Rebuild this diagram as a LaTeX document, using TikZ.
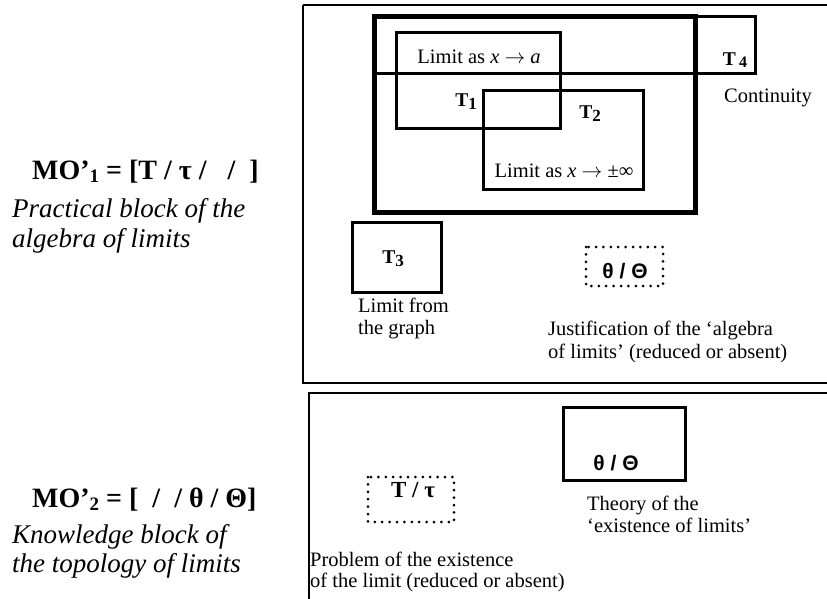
\documentclass[tikz,border=0pt]{standalone}
\usepackage{fontspec}
\setmainfont{Liberation Serif}
\newfontfamily\symsans{Liberation Sans}
\newcommand{\arr}{\ensuremath{\rightarrow}}
\newcommand{\subn}[1]{\raisebox{-0.4ex}{\fontsize{17}{17}\selectfont #1}}
\begin{document}
\begin{tikzpicture}[x=1pt,y=-1pt,
  frame/.style={draw, line width=2pt},
  thickbox/.style={draw, line width=5pt},
  tbox/.style={draw, line width=3pt},
  dotbox/.style={draw, line width=3pt, line cap=round, dash pattern=on 0pt off 7.4pt},
  lbl/.style={inner sep=0pt, anchor=base, font=\fontsize{20.5}{23}\selectfont},
  lblw/.style={lbl, anchor=base west},
  tl/.style={inner sep=0pt, anchor=base, font=\fontsize{19.5}{22}\selectfont\bfseries},
  thl/.style={inner sep=0pt, anchor=base, font=\fontsize{21}{22}\selectfont\symsans\bfseries},
  side/.style={inner sep=0pt, anchor=base west, font=\fontsize{27}{29}\selectfont\itshape},
  mo/.style={inner sep=0pt, anchor=base west, font=\fontsize{28}{30}\selectfont\bfseries}]
\useasboundingbox (0,0) rectangle (827,598);
% upper block
\draw[frame] (303,5) -- (830,5) (303,5) -- (303,383) -- (830,383);
\draw[thickbox] (374,16) rectangle (695,212);
\draw[tbox] (374,73) -- (755,73) -- (755,16) -- (695,16);
\draw[tbox] (396,32) rectangle (560,128);
\draw[tbox] (483,90) rectangle (643,189);
\draw[tbox] (352,222) rectangle (441,292);
\draw[dotbox] (586,247) rectangle (663,286);
\node[lbl] (la) at (479,63) {Limit as \textit{x} \arr{} \textit{a}};
\node[tl] (t1) at (466,106) {T\subn{1}};
\node[tl] (t2) at (590,118) {T\subn{2}};
\node[lbl] (linf) at (564,177) {Limit as \textit{x} \arr{} ±∞};
\node[tl] (t4) at (735,65) {T\,\raisebox{-0.3ex}{\fontsize{16}{16}\selectfont 4}};
\node[lblw] (cont) at (724,102) {Continuity};
\node[tl] (t3) at (393,263) {T\subn{3}};
\node[lblw] (lg1) at (358,312) {Limit from};
\node[lblw] (lg2) at (358,334) {the graph};
\node[thl] (th1) at (625,278) {θ / Θ};
\node[lblw] (just1) at (548,335) {Justification of the ‘algebra};
\node[lblw] (just2) at (548,358) {of limits’ (reduced or absent)};
% lower block
\draw[frame] (309,603) -- (309,393) -- (832,393);
\draw[tbox] (563,407) rectangle (685,480);
\node[thl] (th2) at (616,470) {θ / Θ};
\node[lblw] (theo1) at (587,510) {Theory of the};
\node[lblw] (theo2) at (587,532) {‘existence of limits’};
\draw[dotbox] (368,477) rectangle (454,522);
\node[tl, font=\fontsize{23}{24}\selectfont\bfseries] (tt) at (413,497) {T / τ};
\node[lblw] (prob1) at (310,566) {Problem of the existence};
\node[lblw] (prob2) at (310,587) {of the limit (reduced or absent)};
% left labels
\node[mo] (mo1) at (32,179) {MO’\raisebox{-0.3ex}{\fontsize{19}{19}\selectfont 1} = [T / τ /\ \ \ /\ \ ]};
\node[side] (s1a) at (12,217) {Practical block of the};
\node[side] (s1b) at (12,247) {algebra of limits};
\node[mo] (mo2) at (32,507) {MO’\raisebox{-0.3ex}{\fontsize{19}{19}\selectfont 2} = [\ \ /\ \ / θ / Θ]};
\node[side] (s2a) at (12,543) {Knowledge block of};
\node[side] (s2b) at (12,572) {the topology of limits};
\end{tikzpicture}
\end{document}
